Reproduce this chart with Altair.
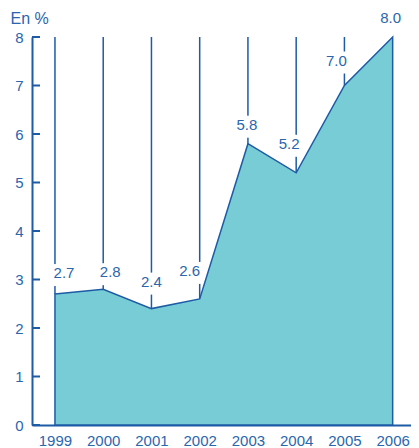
import altair as alt
import pandas as pd

years = [1999, 2000, 2001, 2002, 2003, 2004, 2005, 2006]
values = [2.7, 2.8, 2.4, 2.6, 5.8, 5.2, 7.0, 8.0]
y_ticks = [0, 1, 2, 3, 4, 5, 6, 7, 8]

df = pd.DataFrame({"year": years, "value": values, "top": [8] * len(years)})
df["label"] = [f"{v:.1f}" for v in values]
ticks_df = pd.DataFrame({"t": y_ticks})

# label nudges (style only): pixel offsets of each value label from its point
nudge = {1999: (9, -21), 2000: (7, -17), 2001: (0, -27), 2002: (-10, -28),
         2003: (-1, -19), 2004: (-7, -29), 2005: (-8, -25), 2006: (-2, -19)}

LINE = "#1d5ba5"
TEXT = "#2a66ad"
FILL = "#77ccd5"
FONT = "Liberation Sans"

x = alt.X("year:Q", scale=alt.Scale(domain=[1998.524, 2006.38], nice=False, zero=False),
          axis=alt.Axis(values=years, format="d", title=None, grid=False, ticks=False,
                        domainColor=LINE, domainWidth=2, labelColor=TEXT, labelFontSize=15,
                        labelFont=FONT, labelPadding=8, labelFlush=False))
y = alt.Y("value:Q", scale=alt.Scale(domain=[0, 8], nice=False),
          axis=alt.Axis(values=y_ticks, grid=False, tickSize=0, domainColor=LINE, domainWidth=2,
                        labelColor=TEXT, labelFontSize=15, labelFont=FONT, labelPadding=9,
                        title="En %", titleAngle=0, titleX=-22, titleY=-11, titleAlign="left",
                        titleBaseline="bottom", titleColor=TEXT, titleFontSize=16,
                        titleFont=FONT, titleFontWeight="normal"))

base = alt.Chart(df)

rules = base.mark_rule(color=LINE, strokeWidth=1.5).encode(
    x=x, y=alt.Y("top:Q"), y2="value:Q")

area = base.mark_area(color=FILL, stroke=LINE, strokeWidth=1.5, opacity=1).encode(
    x=x, y=y)

box_layers = []
label_layers = []
for yr in years:
    dx, dy = nudge[yr]
    sub = base.transform_filter(alt.datum.year == yr)
    box_layers.append(sub.mark_rect(color="white", width=28, height=22,
                                    xOffset=dx, yOffset=dy + 2).encode(x=x, y="value:Q"))
    label_layers.append(sub.mark_text(color=TEXT, fontSize=15, font=FONT, dx=dx, dy=dy,
                                      baseline="middle").encode(x=x, y="value:Q", text="label:N"))

yticks = alt.Chart(ticks_df).mark_rule(color=LINE, strokeWidth=2).encode(
    y=alt.Y("t:Q"), x=alt.value(0), x2=alt.value(8))

chart = alt.layer(rules, *box_layers, area, *label_layers, yticks).properties(
    width=379, height=388,
    padding={"left": 24, "top": 29, "right": 0, "bottom": 23},
    autosize="none",
).configure_view(stroke=None)

chart.save("out.html", embed_options={"renderer": "svg", "actions": False})
